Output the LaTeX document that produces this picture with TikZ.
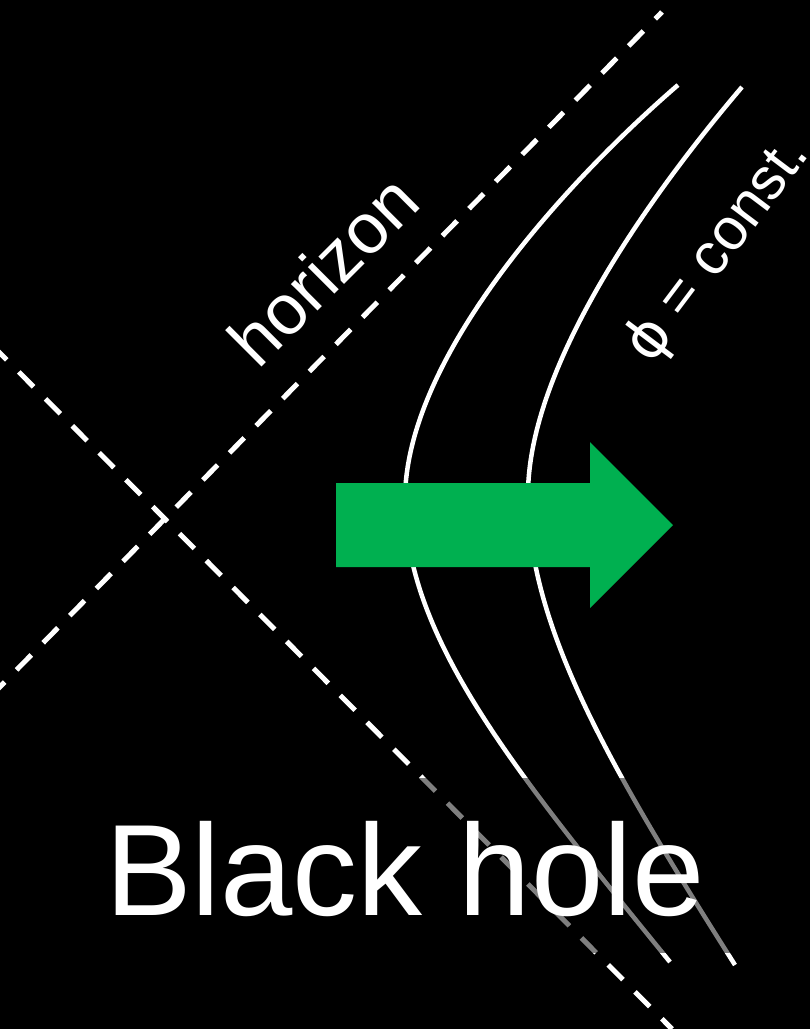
\documentclass[tikz,border=0pt]{standalone}
\usepackage{fontspec}
\setmainfont{Liberation Sans}
\newfontfamily\phifont{DejaVu Sans}
\definecolor{arrowgreen}{HTML}{00B050}
\begin{document}
\begin{tikzpicture}[x=1pt,y=-1pt,
  horizonline/.style={white,line width=5pt,dash pattern=on 21pt off 17pt},
  worldline/.style={white,line width=4.5pt},
  bigtext/.style={white,inner sep=0pt,font=\fontsize{130}{130}\selectfont},
  labeltext/.style={white,inner sep=0pt}]
\fill[black] (0,0) rectangle (810,1029);
\useasboundingbox (0,0) rectangle (810,1029);
% horizons
\coordinate (h1a) at (-10,697);
\coordinate (h1b) at (662,12);
\coordinate (h2a) at (-8,345);
\coordinate (h2b) at (672,1029);
\draw[horizonline] (h1a) -- (h1b);
\draw[horizonline] (h2a) -- (h2b);
% phi = const curves
\coordinate (l0) at (678,85);
\coordinate (lv) at (405,500);
\coordinate (l1) at (670,962);
\coordinate (r0) at (742,87);
\coordinate (rv) at (528,495);
\coordinate (r1) at (735,965);
\draw[worldline] (l0) .. controls (560,187) and (405,360) .. (lv)
  .. controls (405,640) and (520,777) .. (l1);
\draw[worldline] (r0) .. controls (661,182) and (528,360) .. (rv)
  .. controls (528,630) and (615,775) .. (r1);
% translucent overlay
\fill[black,opacity=0.5] (95,778) rectangle (770,953);
% green arrow
\fill[arrowgreen] (336,483) -- (590,483) -- (590,442) -- (673,525) -- (590,608) -- (590,567) -- (336,567) -- cycle;
% labels
\node[labeltext,font=\fontsize{71}{71}\selectfont,rotate=45,anchor=base] (hz) at (341,288) {horizon};
\node[labeltext,font=\fontsize{59}{59}\selectfont,rotate=53,anchor=base] (phi) at (731,260) {{\phifont ϕ} = const.};
\node[bigtext,anchor=base] (bh) at (405,915) {Black hole};
\end{tikzpicture}
\end{document}
